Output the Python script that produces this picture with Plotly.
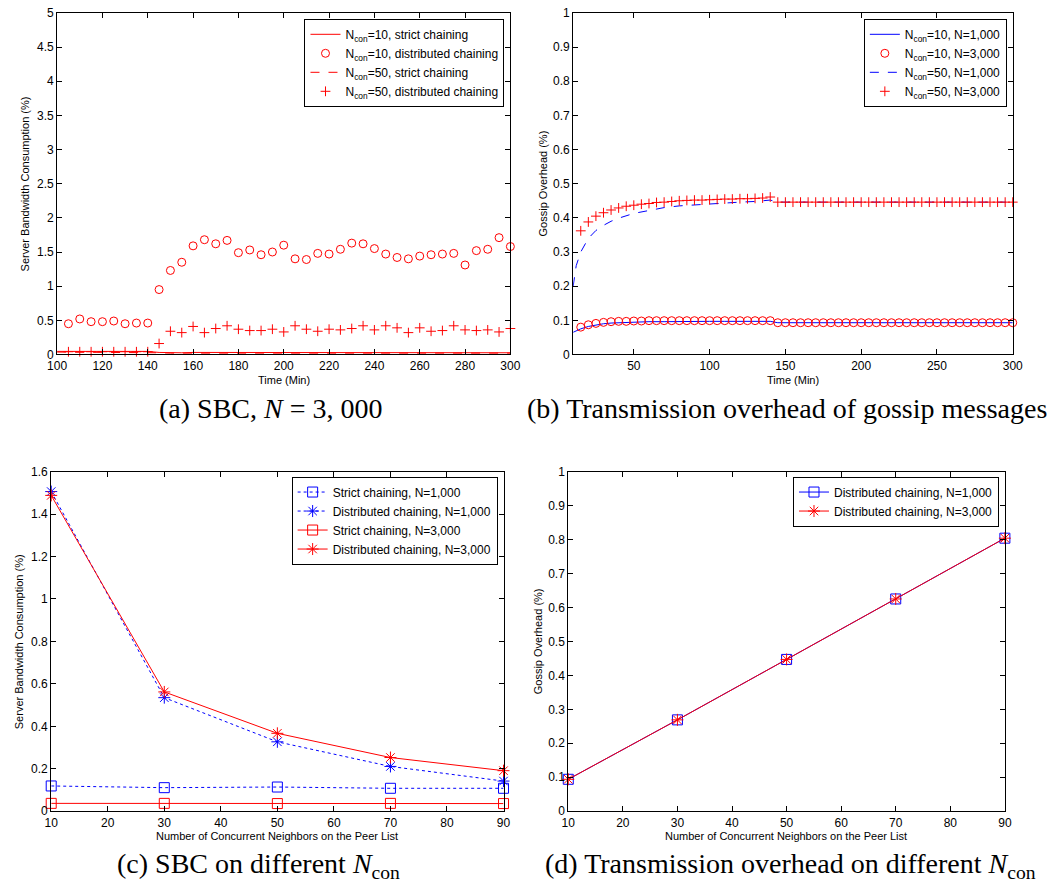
import plotly.graph_objects as go

W, H = 1061, 895

# ---------------- Panel (a) data ----------------
a_time = list(range(105, 301, 5))
a_n10_dist = [0.45, 0.52, 0.48, 0.48, 0.49, 0.45, 0.46, 0.46, 0.95, 1.23, 1.35, 1.59, 1.68, 1.62,
              1.67, 1.49, 1.53, 1.46, 1.50, 1.60, 1.40, 1.39, 1.48, 1.47, 1.54, 1.63, 1.62, 1.55,
              1.47, 1.42, 1.40, 1.44, 1.46, 1.47, 1.48, 1.31, 1.52, 1.54, 1.71, 1.58]
a_n50_dist = [0.04, 0.04, 0.04, 0.04, 0.04, 0.04, 0.04, 0.04, 0.16, 0.34, 0.32, 0.41, 0.32, 0.38,
              0.42, 0.37, 0.35, 0.35, 0.37, 0.33, 0.42, 0.37, 0.34, 0.37, 0.36, 0.38, 0.42, 0.36,
              0.42, 0.39, 0.32, 0.39, 0.34, 0.35, 0.42, 0.36, 0.35, 0.36, 0.33, 0.38]
a_line_time = list(range(100, 301, 5))
a_n10_strict = [0.045, 0.045, 0.045, 0.045, 0.045, 0.045, 0.045, 0.045, 0.045,
                0.03, 0.025, 0.025, 0.03, 0.03, 0.025, 0.03, 0.025, 0.025, 0.025, 0.025, 0.03,
                0.025, 0.025, 0.03, 0.025, 0.025, 0.025, 0.025, 0.025, 0.025, 0.025, 0.025,
                0.025, 0.025, 0.025, 0.025, 0.025, 0.03, 0.025, 0.025, 0.025]
a_n50_strict = [0.035, 0.035, 0.035, 0.035, 0.035, 0.035, 0.035, 0.035, 0.035,
                0.025, 0.02, 0.02, 0.025, 0.02, 0.02, 0.025, 0.02, 0.02, 0.02, 0.02, 0.025,
                0.02, 0.02, 0.025, 0.02, 0.02, 0.02, 0.02, 0.02, 0.02, 0.02, 0.02,
                0.02, 0.02, 0.02, 0.02, 0.02, 0.025, 0.02, 0.02, 0.02]

# ---------------- Panel (b) data ----------------
b_marker_time = list(range(15, 301, 5))
b_n10_n3000 = [0.080, 0.087, 0.091, 0.094, 0.096, 0.097, 0.097, 0.098, 0.098, 0.099, 0.099, 0.099,
               0.099, 0.099, 0.099, 0.099, 0.099, 0.099, 0.099, 0.099, 0.099, 0.099, 0.099, 0.099,
               0.099, 0.099, 0.093, 0.093, 0.093, 0.093, 0.093, 0.093, 0.093, 0.093, 0.093, 0.093,
               0.093, 0.093, 0.093, 0.093, 0.093, 0.093, 0.093, 0.093, 0.093, 0.093, 0.093, 0.093,
               0.093, 0.093, 0.093, 0.093, 0.093, 0.093, 0.093, 0.093, 0.093, 0.093]
b_n50_n3000 = [0.362, 0.388, 0.405, 0.415, 0.423, 0.429, 0.434, 0.437, 0.440, 0.442, 0.445, 0.446,
               0.448, 0.450, 0.451, 0.452, 0.452, 0.453, 0.454, 0.455, 0.455, 0.456, 0.456, 0.457,
               0.458, 0.461, 0.446, 0.446, 0.446, 0.446, 0.446, 0.446, 0.446, 0.446, 0.446, 0.446,
               0.446, 0.446, 0.446, 0.446, 0.446, 0.446, 0.446, 0.446, 0.446, 0.446, 0.446, 0.446,
               0.446, 0.446, 0.446, 0.446, 0.446, 0.446, 0.446, 0.446, 0.446, 0.446]
b_line_time = [10, 12, 15, 20, 25, 30, 35, 40, 50, 60, 70, 80, 90, 100, 110, 120, 130, 140, 145,
               150, 200, 250, 300]
b_n10_n1000 = [0.065, 0.070, 0.075, 0.082, 0.087, 0.090, 0.092, 0.093, 0.095, 0.096, 0.096, 0.097,
               0.097, 0.097, 0.097, 0.097, 0.097, 0.097, 0.093, 0.093, 0.093, 0.093, 0.093]
b_n50_n1000 = [0.200, 0.260, 0.300, 0.340, 0.363, 0.378, 0.390, 0.399, 0.413, 0.422, 0.430, 0.435,
               0.438, 0.442, 0.444, 0.446, 0.448, 0.452, 0.446, 0.446, 0.446, 0.446, 0.446]

# ---------------- Panel (c) data ----------------
ncon = [10, 30, 50, 70, 90]
c_strict_1000 = [0.119, 0.111, 0.114, 0.108, 0.108]
c_dist_1000 = [1.506, 0.535, 0.327, 0.211, 0.142]
c_strict_3000 = [0.037, 0.037, 0.036, 0.037, 0.036]
c_dist_3000 = [1.488, 0.562, 0.367, 0.253, 0.191]

# ---------------- Panel (d) data ----------------
d_dist_1000 = [0.094, 0.269, 0.447, 0.625, 0.804]
d_dist_3000 = [0.094, 0.269, 0.447, 0.625, 0.804]

RED = "#ff0000"
BLUE = "#0000ff"
SANS = "Liberation Sans, Arial, sans-serif"
TICKFONT = dict(family=SANS, size=12, color="black")
LEGFONT = dict(family=SANS, size=12, color="black")
NC = "N<sub>con</sub>"

fig = go.Figure()

# Panel (a)
fig.add_trace(go.Scatter(x=a_line_time, y=a_n10_strict, mode="lines", line=dict(color=RED, width=1),
                         name=NC + "=10, strict chaining", xaxis="x", yaxis="y", legend="legend",
                         cliponaxis=False))
fig.add_trace(go.Scatter(x=a_time, y=a_n10_dist, mode="markers",
                         marker=dict(symbol="circle-open", size=8, color=RED, line=dict(width=1)),
                         name=NC + "=10, distributed chaining", xaxis="x", yaxis="y", legend="legend",
                         cliponaxis=False))
fig.add_trace(go.Scatter(x=a_line_time, y=a_n50_strict, mode="lines",
                         line=dict(color=RED, width=1, dash="dash"),
                         name=NC + "=50, strict chaining", xaxis="x", yaxis="y", legend="legend",
                         cliponaxis=False))
fig.add_trace(go.Scatter(x=a_time, y=a_n50_dist, mode="markers",
                         marker=dict(symbol="cross-thin-open", size=7, color=RED, line=dict(width=1, color=RED)),
                         name=NC + "=50, distributed chaining", xaxis="x", yaxis="y", legend="legend",
                         cliponaxis=False))

# Panel (b)
fig.add_trace(go.Scatter(x=b_line_time, y=b_n10_n1000, mode="lines", line=dict(color=BLUE, width=1),
                         name=NC + "=10, N=1,000", xaxis="x2", yaxis="y2", legend="legend2"))
fig.add_trace(go.Scatter(x=b_marker_time, y=b_n10_n3000, mode="markers",
                         marker=dict(symbol="circle-open", size=8, color=RED, line=dict(width=1)),
                         name=NC + "=10, N=3,000", xaxis="x2", yaxis="y2", legend="legend2",
                         cliponaxis=False))
fig.add_trace(go.Scatter(x=b_line_time, y=b_n50_n1000, mode="lines",
                         line=dict(color=BLUE, width=1, dash="dash"),
                         name=NC + "=50, N=1,000", xaxis="x2", yaxis="y2", legend="legend2"))
fig.add_trace(go.Scatter(x=b_marker_time, y=b_n50_n3000, mode="markers",
                         marker=dict(symbol="cross-thin-open", size=7, color=RED, line=dict(width=1, color=RED)),
                         name=NC + "=50, N=3,000", xaxis="x2", yaxis="y2", legend="legend2",
                         cliponaxis=False))

# Panel (c)
fig.add_trace(go.Scatter(x=ncon, y=c_strict_1000, mode="lines+markers",
                         line=dict(color=BLUE, width=1, dash="dot"),
                         marker=dict(symbol="square-open", size=10, color=BLUE, line=dict(width=1)),
                         name="Strict chaining, N=1,000", xaxis="x3", yaxis="y3", legend="legend3",
                         cliponaxis=False))
fig.add_trace(go.Scatter(x=ncon, y=c_dist_1000, mode="lines+markers",
                         line=dict(color=BLUE, width=1, dash="dot"),
                         marker=dict(symbol="asterisk-open", size=10, color=BLUE, line=dict(width=1, color=BLUE)),
                         name="Distributed chaining, N=1,000", xaxis="x3", yaxis="y3", legend="legend3",
                         cliponaxis=False))
fig.add_trace(go.Scatter(x=ncon, y=c_strict_3000, mode="lines+markers",
                         line=dict(color=RED, width=1),
                         marker=dict(symbol="square-open", size=10, color=RED, line=dict(width=1)),
                         name="Strict chaining, N=3,000", xaxis="x3", yaxis="y3", legend="legend3",
                         cliponaxis=False))
fig.add_trace(go.Scatter(x=ncon, y=c_dist_3000, mode="lines+markers",
                         line=dict(color=RED, width=1),
                         marker=dict(symbol="asterisk-open", size=10, color=RED, line=dict(width=1, color=RED)),
                         name="Distributed chaining, N=3,000", xaxis="x3", yaxis="y3", legend="legend3",
                         cliponaxis=False))

# Panel (d)
fig.add_trace(go.Scatter(x=ncon, y=d_dist_1000, mode="lines+markers",
                         line=dict(color=BLUE, width=1),
                         marker=dict(symbol="square-open", size=10, color=BLUE, line=dict(width=1)),
                         name="Distributed chaining, N=1,000", xaxis="x4", yaxis="y4", legend="legend4",
                         cliponaxis=False))
fig.add_trace(go.Scatter(x=ncon, y=d_dist_3000, mode="lines+markers",
                         line=dict(color=RED, width=1),
                         marker=dict(symbol="asterisk-open", size=10, color=RED, line=dict(width=1, color=RED)),
                         name="Distributed chaining, N=3,000", xaxis="x4", yaxis="y4", legend="legend4",
                         cliponaxis=False))


def px(v):
    return v / W


def py(v):
    return 1 - v / H


def axis(domain, rng, dtick=None, tickvals=None, anchor=None):
    d = dict(domain=domain, range=rng, showline=True, linecolor="black", linewidth=1,
             mirror="allticks", ticks="inside", ticklen=5, tickcolor="black", tickwidth=1,
             showgrid=False, zeroline=False, tickfont=TICKFONT, anchor=anchor, fixedrange=True)
    if tickvals is not None:
        d["tickvals"] = tickvals
    else:
        d["dtick"] = dtick
        d["tick0"] = rng[0]
    return d


top_dom = [py(353), py(6)]
bot_dom = [py(817), py(472)]

layout = dict(
    width=W, height=H, margin=dict(l=0, r=0, t=0, b=0),
    paper_bgcolor="white", plot_bgcolor="white",
    xaxis=axis([px(48), px(510)], [100, 300], dtick=20, anchor="y"),
    yaxis=axis(top_dom, [0, 5], dtick=0.5, anchor="x"),
    xaxis2=axis([px(574), px(1022)], [10, 300], tickvals=[50, 100, 150, 200, 250, 300], anchor="y2"),
    yaxis2=axis(top_dom, [0, 1], dtick=0.1, anchor="x2"),
    xaxis3=axis([px(42), px(503)], [10, 90], dtick=10, anchor="y3"),
    yaxis3=axis(bot_dom, [0, 1.6], dtick=0.2, anchor="x3"),
    xaxis4=axis([px(569), px(1014)], [10, 90], dtick=10, anchor="y4"),
    yaxis4=axis(bot_dom, [0, 1], dtick=0.1, anchor="x4"),
    showlegend=True,
)


def leg(xr, yt):
    return dict(x=px(xr), y=py(yt), xanchor="right", yanchor="top", bgcolor="white",
                bordercolor="black", borderwidth=1, font=LEGFONT, tracegroupgap=0)


layout["legend"] = leg(504, 12)
layout["legend2"] = leg(1016, 12)
layout["legend3"] = leg(497, 477)
layout["legend4"] = leg(1008, 477)

fig.update_layout(**layout)

AX = dict(family=SANS, size=11, color="black")
CAP = dict(family="Liberation Serif, Times New Roman, serif", size=28, color="black")

ann = [
    # axis titles
    dict(text="Time (Min)", x=px(279), y=py(379), font=AX),
    dict(text="Time (Min)", x=px(798), y=py(379), font=AX),
    dict(text="Number of Concurrent Neighbors on the Peer List", x=px(272), y=py(842), font=AX),
    dict(text="Number of Concurrent Neighbors on the Peer List", x=px(791), y=py(842), font=AX),
    dict(text="Server Bandwidth Consumption (%)", x=px(15), y=py(179.5), font=AX, textangle=-90),
    dict(text="Gossip Overhead (%)", x=px(543), y=py(179.5), font=AX, textangle=-90),
    dict(text="Server Bandwidth Consumption (%)", x=px(10), y=py(644.5), font=AX, textangle=-90),
    dict(text="Gossip Overhead (%)", x=px(539), y=py(644.5), font=AX, textangle=-90),
    # captions
    dict(text="(a) SBC, <i>N</i> = 3, 000", x=px(265), y=py(408), font=CAP),
    dict(text="(b) Transmission overhead of gossip messages", x=px(792), y=py(408), font=CAP),
    dict(text="(c) SBC on different <i>N</i><sub>con</sub>", x=px(253), y=py(872), font=CAP),
    dict(text="(d) Transmission overhead on different <i>N</i><sub>con</sub>", x=px(796), y=py(872), font=CAP),
]
for a in ann:
    a.update(xref="paper", yref="paper", showarrow=False, xanchor="center", yanchor="middle")
fig.update_layout(annotations=ann)

fig.write_html("out.html")
